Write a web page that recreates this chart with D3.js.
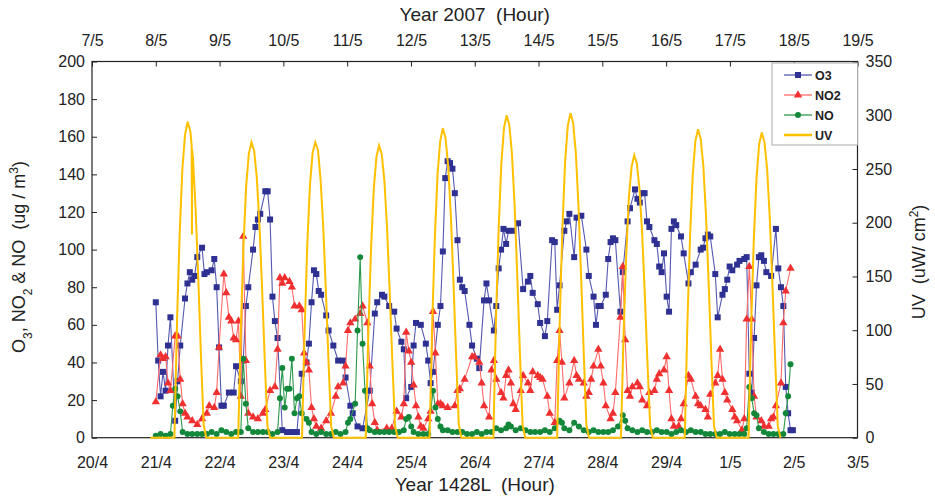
<!DOCTYPE html>
<html><head><meta charset="utf-8">
<script src="https://cdn.jsdelivr.net/npm/d3@7"></script>
<style>
body{margin:0;background:#fff}
text{font-family:Arial,"Liberation Sans",sans-serif;fill:#222;white-space:pre}
</style>
</head><body>
<svg id="c" width="935" height="496"></svg>
<script>
// ---------- DATA ----------
const bottomLabels = ["20/4","21/4","22/4","23/4","24/4","25/4","26/4","27/4","28/4","29/4","1/5","2/5","3/5"];
const topLabels = ["7/5","8/5","9/5","10/5","11/5","12/5","13/5","14/5","15/5","16/5","17/5","18/5","19/5"];
const leftTicks = [0,20,40,60,80,100,120,140,160,180,200];
const rightTicks = [0,50,100,150,200,250,300,350];
const startDay = "21/4"; // readings below: [hours after 21/4 00:00, ug/m3]

const o3 = [[0,72],[0.9,41],[1.8,22],[2.7,35],[3.7,25],[4.6,49],[5.5,64],[7.3,9],[8.2,30],[9.2,49],[11.0,74],[11.9,82],[12.8,88],[13.7,84],[14.6,86],[15.6,96],[17.4,101],[18.3,87],[19.2,88],[21.0,89],[22.0,95],[22.9,80],[23.8,48],[24.7,17],[25.6,17],[27.5,24],[29.3,24],[30.2,38],[32.0,30],[32.9,41],[33.9,70],[34.8,80],[36.6,100],[37.5,112],[38.4,116],[39.3,119],[41.2,131],[42.1,131],[43.0,116],[43.9,75],[44.8,62],[45.8,53],[47.6,4],[49.4,3],[51.2,3],[53.1,3],[54.9,34],[56.7,40],[57.6,50],[58.6,72],[59.5,89],[60.4,87],[61.3,78],[62.2,76],[64.1,65],[65.0,57],[66.8,49],[68.6,41],[70.5,41],[71.4,32],[73.2,17],[74.1,13],[75.9,6],[77.8,5],[80.5,25],[82.4,66],[83.3,72],[85.1,76],[86.0,75],[87.8,70],[89.7,67],[90.6,58],[92.4,51],[93.3,47],[94.2,21],[96.1,27],[97.0,49],[97.9,61],[99.7,60],[101.6,50],[102.5,41],[103.4,29],[104.3,35],[106.1,60],[107.1,70],[108.0,99],[108.9,138],[109.8,147],[110.7,146],[111.6,143],[112.5,130],[113.5,105],[114.4,84],[115.3,80],[116.2,78],[118.0,60],[119.0,49],[120.8,42],[121.7,37],[123.5,73],[124.4,82],[125.4,73],[127.2,57],[128.1,70],[129.0,90],[129.9,100],[130.8,111],[131.8,103],[132.7,110],[134.5,110],[136.3,114],[138.2,79],[140.0,83],[140.9,86],[141.8,77],[143.7,71],[144.6,61],[146.4,54],[147.3,62],[149.1,105],[150.1,104],[151.0,68],[151.9,81],[153.7,110],[154.6,115],[155.6,119],[157.4,96],[158.3,117],[160.1,118],[162.0,100],[162.9,86],[164.7,75],[165.6,60],[166.5,70],[167.4,70],[169.3,76],[170.2,95],[171.1,104],[172.0,106],[172.9,105],[174.8,67],[175.7,88],[177.5,115],[178.4,122],[180.3,132],[181.2,127],[182.1,125],[183.0,130],[183.9,130],[184.8,115],[185.7,112],[187.6,105],[188.5,103],[189.4,91],[190.3,88],[191.2,98],[192.2,75],[193.1,67],[194.0,111],[194.9,115],[195.8,113],[197.6,107],[198.6,98],[200.4,82],[201.3,88],[203.1,92],[205.0,100],[205.9,101],[206.8,106],[207.7,108],[208.6,107],[210.5,87],[211.4,64],[213.2,76],[214.1,79],[215.0,84],[215.9,91],[216.9,89],[218.7,92],[219.6,94],[221.4,95],[222.3,96],[223.3,34],[224.2,24],[225.1,53],[226.0,81],[226.9,96],[227.8,97],[228.8,94],[229.7,88],[231.5,86],[233.3,111],[234.2,90],[235.2,80],[236.1,70],[237.0,27],[237.9,13],[238.8,4],[239.7,4]];

const no2 = [[0,19],[1.8,44],[2.7,42],[3.7,43],[4.6,29],[5.5,25],[7.3,54],[8.2,54],[9.2,31],[10.1,18],[11.0,13],[11.9,11],[13.7,9],[15.6,7],[17.4,10],[19.2,13],[20.1,17],[22.0,16],[22.9,24],[23.8,48],[25.6,87],[26.5,77],[27.5,64],[28.4,62],[29.3,53],[30.2,52],[31.1,62],[32.0,22],[32.9,107],[33.9,41],[34.8,13],[36.6,11],[38.4,10],[40.3,13],[41.2,15],[43.0,25],[44.8,27],[45.8,47],[46.7,85],[47.6,82],[48.5,85],[50.3,83],[51.2,80],[52.2,70],[54.0,70],[54.9,68],[55.8,45],[56.7,40],[57.6,36],[58.6,16],[59.5,10],[60.4,6],[62.2,5],[64.1,9],[65.9,13],[67.7,22],[68.6,27],[70.5,29],[71.4,38],[72.3,57],[73.2,61],[75.0,63],[76.9,66],[77.8,70],[79.6,61],[80.5,38],[81.4,18],[82.4,8],[83.3,4],[86.9,5],[88.8,5],[90.6,14],[92.4,11],[93.3,18],[94.2,56],[95.2,46],[96.1,40],[97.0,28],[97.9,17],[98.8,11],[99.7,6],[100.7,5],[102.5,10],[103.4,14],[104.3,67],[105.2,45],[106.1,18],[107.1,18],[108.0,17],[109.8,16],[112.5,17],[113.5,25],[114.4,26],[116.2,31],[119.0,43],[119.9,43],[121.7,40],[122.6,29],[123.5,17],[125.4,11],[126.3,36],[127.2,41],[128.1,31],[129.9,24],[130.8,21],[131.8,33],[132.7,36],[133.6,29],[134.5,18],[135.4,15],[137.3,25],[138.2,33],[140.0,29],[140.9,25],[141.8,35],[143.7,33],[144.6,32],[145.5,31],[147.3,22],[148.2,13],[150.1,8],[151.0,41],[151.9,57],[152.8,40],[153.7,21],[155.6,29],[157.4,41],[158.3,33],[159.2,31],[161.0,29],[162.0,22],[162.9,24],[163.8,31],[164.7,38],[166.5,47],[167.4,38],[168.4,29],[169.3,17],[171.1,10],[172.0,13],[172.9,24],[174.8,64],[175.7,91],[176.6,52],[177.5,25],[178.4,22],[179.3,27],[181.2,29],[182.1,27],[183.0,20],[184.8,17],[185.7,24],[187.6,25],[188.5,31],[189.4,34],[191.2,36],[192.2,43],[193.1,25],[194.0,10],[194.9,6],[196.7,6],[197.6,10],[198.6,18],[200.4,33],[201.3,31],[203.1,22],[204.0,18],[205.0,17],[206.8,15],[207.7,11],[208.6,23],[210.5,29],[211.4,33],[212.3,47],[213.2,31],[214.1,24],[215.0,20],[216.9,15],[217.8,11],[218.7,9],[220.5,4],[221.4,10],[222.3,63],[223.3,91],[224.2,63],[225.1,22],[226.0,11],[227.8,9],[228.8,6],[230.6,6],[231.5,10],[232.4,11],[233.3,17],[235.2,29],[236.1,61],[237.0,78],[238.8,90]];

const no = [[0,1],[1.8,2],[3.7,1],[5.5,2],[6.4,17],[7.3,26],[8.2,22],[9.2,14],[10.1,3],[11.9,2],[13.7,2],[15.6,2],[17.4,2],[19.2,2],[21.0,3],[22.9,2],[24.7,4],[26.5,3],[28.4,2],[30.2,3],[32.0,3],[32.9,42],[33.9,18],[34.8,5],[36.6,3],[38.4,3],[40.3,3],[42.1,3],[43.9,2],[45.8,3],[46.7,21],[47.6,37],[48.5,16],[49.4,26],[50.3,26],[51.2,42],[52.2,13],[53.1,21],[54.0,22],[54.9,13],[56.7,10],[57.6,8],[58.6,3],[60.4,2],[62.2,3],[64.1,2],[65.9,2],[67.7,3],[69.5,2],[71.4,3],[72.3,8],[73.2,10],[75.0,18],[75.9,57],[76.9,96],[77.8,50],[78.7,25],[79.6,5],[80.5,4],[82.4,3],[84.2,3],[86.0,3],[87.8,3],[89.7,3],[91.5,3],[93.3,4],[94.2,10],[95.2,11],[96.1,6],[97.0,3],[98.8,2],[100.7,2],[102.5,2],[104.3,25],[105.2,16],[106.1,10],[107.1,6],[108.0,4],[109.8,4],[111.6,3],[113.5,3],[115.3,3],[117.1,2],[119.0,2],[120.8,3],[122.6,2],[124.4,3],[126.3,3],[128.1,5],[129.9,4],[131.8,5],[132.7,7],[133.6,6],[135.4,4],[137.3,5],[139.1,4],[140.9,3],[142.7,3],[144.6,3],[146.4,4],[148.2,3],[150.1,5],[151.9,9],[152.8,8],[153.7,5],[155.6,4],[157.4,8],[159.2,6],[161.0,4],[162.9,3],[164.7,4],[166.5,3],[168.4,3],[170.2,3],[172.0,4],[173.9,6],[175.7,12],[176.6,9],[177.5,5],[179.3,4],[181.2,3],[183.0,4],[184.8,3],[186.7,3],[188.5,4],[190.3,3],[192.2,3],[194.0,2],[195.8,3],[197.6,4],[199.5,3],[201.3,4],[203.1,3],[205.0,3],[206.8,2],[208.6,2],[210.5,2],[212.3,2],[214.1,3],[215.9,2],[217.8,2],[219.6,2],[221.4,2],[222.3,5],[223.3,27],[224.2,21],[225.1,13],[226.0,12],[226.9,5],[228.8,3],[230.6,2],[232.4,2],[234.2,2],[236.1,2],[237.0,13],[237.9,22],[238.8,39]];

// UV (uW/cm2), daytime hours of each day on the 2007 axis
const uvDates = ["8/5","9/5","10/5","11/5","12/5","13/5","14/5","15/5","16/5","17/5"];
const uvHours = [7,8,9,10,11,12,13,14,15,16,17,18,19];
const uvValues = [
  [0,109,191,250,282,294,285,259,212,147,76,12,0],
  [0,102,179,234,264,275,267,242,198,138,72,11,0],
  [0,100,180,235,265,275,268,240,196,136,70,10,0],
  [0,101,177,231,261,272,264,239,196,136,71,11,0],
  [0,107,187,245,276,288,279,253,207,144,75,12,0],
  [0,111,195,255,288,300,291,264,216,150,78,12,0],
  [0,112,196,257,290,302,293,266,217,151,79,12,0],
  [0,97,171,224,252,263,255,231,189,132,68,11,0],
  [0,106,187,244,276,287,278,253,207,144,75,11,0],
  [0,105,185,241,273,284,275,250,204,142,74,11,0]
];
const uvSpike = {date:"8/5", hours:[13.5,13.6,13.7], values:[272,189,268]};
const uvFirst = {date:"7/5", hour:22, value:0};

// ---------- CHART ----------
const svg = d3.select("#c");
const L = 92, R = 857.5, T = 61.5, B = 437.7;
const xB = d3.scaleLinear().domain([0, bottomLabels.length-1]).range([L, R]);
const xT = d3.scaleLinear().domain([0, topLabels.length-1]).range([L, R]);
const yL = d3.scaleLinear().domain([0,200]).range([B, T]);
const yR = d3.scaleLinear().domain([0,350]).range([B, T]);

const d0 = bottomLabels.indexOf(startDay);
const tx = h => xB(d0 + h/24);

// axes
const fs = "16px";
const gL = svg.append("g").attr("transform",`translate(${L},0)`)
  .call(d3.axisLeft(yL).tickValues(leftTicks).tickSize(-5).tickPadding(7));
const gR = svg.append("g").attr("transform",`translate(${R},0)`)
  .call(d3.axisRight(yR).tickValues(rightTicks).tickSize(-5).tickPadding(8));
const gT = svg.append("g").attr("transform",`translate(0,${T})`)
  .call(d3.axisTop(xT).tickValues(d3.range(topLabels.length)).tickFormat(i=>topLabels[i]).tickSize(-5).tickPadding(16));
const gB = svg.append("g").attr("transform",`translate(0,${B})`)
  .call(d3.axisBottom(xB).tickValues(d3.range(bottomLabels.length)).tickFormat(i=>bottomLabels[i]).tickSize(0).tickPadding(19));
[gL,gR,gT,gB].forEach(g=>{
  g.select(".domain").remove();
  g.selectAll("text").style("font-size",fs).style("font-family","Arial, 'Liberation Sans', sans-serif").attr("fill","#222");
  g.selectAll("line").attr("stroke","#222");
});

// frame
svg.append("rect").attr("x",L).attr("y",T).attr("width",R-L).attr("height",B-T)
  .attr("fill","none").attr("stroke","#222").attr("stroke-width",1.2);

// titles
svg.append("text").attr("x",(L+R)/2).attr("y",21).attr("text-anchor","middle")
  .style("font-size","19px").text("Year 2007  (Hour)");
svg.append("text").attr("x",(L+R)/2).attr("y",491).attr("text-anchor","middle")
  .style("font-size","19px").text("Year 1428L  (Hour)");
const lt = svg.append("text").attr("transform","translate(25,257) rotate(-90)")
  .attr("text-anchor","middle").style("font-size","18px");
lt.append("tspan").text("O");
lt.append("tspan").attr("baseline-shift","sub").style("font-size","12px").text("3");
lt.append("tspan").text(", NO");
lt.append("tspan").attr("baseline-shift","sub").style("font-size","12px").text("2");
lt.append("tspan").text(" & NO  (ug / m");
lt.append("tspan").attr("baseline-shift","super").style("font-size","12px").text("3");
lt.append("tspan").text(")");
const rt = svg.append("text").attr("transform","translate(925,262) rotate(-90)")
  .attr("text-anchor","middle").style("font-size","18px");
rt.append("tspan").text("UV  (uW/ cm");
rt.append("tspan").attr("baseline-shift","super").style("font-size","12px").text("2");
rt.append("tspan").text(")");

// series
const plot = svg.append("g");
const C = {o3:"#2E3192", o3l:"#5558b0", no2:"#F03030", no2l:"#ff6a6a", no:"#13873A", nol:"#2a9a4a", uv:"#FFC000"};
function series(data, col, lcol, sym, size){
  const g = plot.append("g");
  g.append("path").datum(data)
    .attr("d", d3.line().x(d=>tx(d[0])).y(d=>yL(d[1])))
    .attr("fill","none").attr("stroke",lcol).attr("stroke-width",1.1);
  g.selectAll("path.m").data(data).join("path").attr("class","m")
    .attr("transform", d=>`translate(${tx(d[0])},${yL(d[1])})`)
    .attr("d", d3.symbol().type(sym).size(size)).attr("fill",col);
}
series(o3, C.o3, C.o3l, d3.symbolSquare, 36);
series(no2, C.no2, C.no2l, d3.symbolTriangle, 30);
series(no, C.no, C.nol, d3.symbolCircle, 28);

// UV line
const uvPts = [{t: topLabels.indexOf(uvFirst.date) + uvFirst.hour/24, v: uvFirst.value}];
uvDates.forEach((d,i)=>{
  const di = topLabels.indexOf(d);
  let pts = uvHours.map((h,j)=>({t: di + h/24, v: uvValues[i][j]}));
  if (d === uvSpike.date) {
    uvSpike.hours.forEach((h,j)=>pts.push({t: di + h/24, v: uvSpike.values[j]}));
    pts.sort((a,b)=>a.t-b.t);
  }
  uvPts.push(...pts);
});
plot.append("path").datum(uvPts)
  .attr("d", d3.line().x(d=>xT(d.t)).y(d=>yR(d.v)))
  .attr("fill","none").attr("stroke",C.uv).attr("stroke-width",2);

// legend
const lg = svg.append("g").attr("transform","translate(772,63)");
lg.append("rect").attr("width",85.5).attr("height",82).attr("fill","#fff").attr("stroke","#aaa");
const items = [
  {name:"O3", col:C.o3, lcol:C.o3l, sym:d3.symbolSquare, size:36},
  {name:"NO2", col:C.no2, lcol:C.no2l, sym:d3.symbolTriangle, size:30},
  {name:"NO", col:C.no, lcol:C.nol, sym:d3.symbolCircle, size:28},
  {name:"UV", col:C.uv, lcol:C.uv, sym:null}
];
items.forEach((it,i)=>{
  const y = 12 + i*20;
  lg.append("line").attr("x1",12).attr("x2",40).attr("y1",y).attr("y2",y)
    .attr("stroke",it.lcol).attr("stroke-width", it.sym?1.3:2.5);
  if (it.sym) lg.append("path").attr("transform",`translate(26,${y})`)
    .attr("d", d3.symbol().type(it.sym).size(it.size)).attr("fill",it.col);
  lg.append("text").attr("x",43).attr("y",y+4.5).style("font-size","12.5px")
    .style("font-weight","bold").text(it.name);
});
</script>
</body></html>
